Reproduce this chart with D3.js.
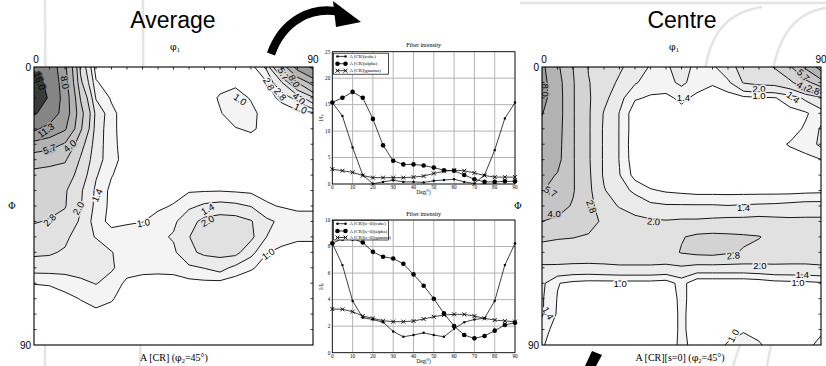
<!DOCTYPE html>
<html><head><meta charset="utf-8">
<script src="https://cdn.jsdelivr.net/npm/d3@7"></script>
<style>body{margin:0;background:#fff}svg{display:block}</style>
</head><body>
<svg id="c" width="826" height="366"></svg>
<script>
// ---------- DATA ----------
const levels = [1.0, 1.4, 2.0, 2.8, 4.0, 5.7, 8.0, 11.3, 16.0];
const levelColors = ["#f4f4f4", "#ebebeb", "#e1e1e1", "#d3d3d3", "#c5c5c5", "#b3b3b3", "#9d9d9d", "#858585", "#3a3a3a"];
// ODF sections, rows = Phi 0..90 (5 deg), cols = phi1 0..90 (5 deg)
const avgGrid = [
 [15.5,14,8.5,2.6,0.8,0.7,0.62,0.6,0.6,0.6,0.6,0.62,0.68,0.75,0.85,1.5,4.5,9.0,12],
 [17.5,15,9,3.0,1.05,0.75,0.65,0.62,0.62,0.62,0.62,0.7,0.85,0.92,0.88,0.97,2.0,4.0,6.5],
 [19,15.5,9.5,3.9,1.35,0.95,0.7,0.62,0.62,0.62,0.62,0.8,1.05,1.15,0.97,0.85,1.1,1.6,2.6],
 [16.5,14,9.5,4.5,1.8,1.1,0.8,0.68,0.62,0.62,0.62,0.8,0.97,1.2,1.1,0.85,0.8,0.85,0.9],
 [12,10,8.3,4.2,1.7,1.1,0.8,0.7,0.65,0.65,0.65,0.72,0.85,0.98,1.05,0.9,0.75,0.72,0.7],
 [7,6.5,5.5,3.2,1.65,1.12,0.8,0.72,0.7,0.7,0.7,0.72,0.75,0.8,0.85,0.8,0.75,0.72,0.7],
 [4.6,4.4,4.15,2.7,1.6,1.15,0.82,0.75,0.72,0.72,0.72,0.75,0.78,0.78,0.78,0.75,0.72,0.7,0.7],
 [3.6,3.5,3.4,2.4,1.45,1.02,0.82,0.78,0.78,0.8,0.82,0.85,0.87,0.85,0.82,0.78,0.75,0.73,0.72],
 [3.2,3.1,2.9,2.1,1.3,0.9,0.8,0.82,0.85,0.9,0.96,0.97,0.98,0.95,0.92,0.88,0.82,0.8,0.8],
 [3.0,3.0,2.85,2.05,1.25,0.9,0.85,0.9,0.95,1.02,1.3,1.48,1.55,1.5,1.38,1.05,0.97,0.95,0.95],
 [2.85,2.75,2.55,1.9,1.15,0.9,0.96,0.99,1.1,1.3,1.75,2.2,2.35,2.3,2.05,1.5,1.3,1.1,1.1],
 [2.5,2.45,2.2,1.55,1.38,1.15,1.15,1.2,1.3,1.45,1.98,2.4,2.5,2.45,2.15,1.4,1.15,1.05,1.05],
 [2.15,2.1,1.9,1.75,1.6,1.42,1.2,1.2,1.22,1.3,1.85,2.15,2.2,2.2,1.55,1.02,0.9,0.88,0.88],
 [1.6,1.6,1.55,1.6,1.6,1.45,1.2,1.12,1.1,1.12,1.3,1.42,1.6,1.25,1.05,0.85,0.78,0.75,0.75],
 [1.02,1.05,1.2,1.3,1.42,1.25,0.9,0.85,0.85,0.85,0.88,0.9,0.88,0.8,0.75,0.7,0.65,0.65,0.65],
 [0.72,0.75,0.85,1.02,1.15,1.05,0.75,0.7,0.7,0.7,0.7,0.7,0.7,0.68,0.65,0.62,0.6,0.6,0.6],
 [0.6,0.62,0.7,0.8,0.9,0.8,0.68,0.65,0.65,0.65,0.65,0.65,0.65,0.62,0.6,0.6,0.58,0.58,0.58],
 [0.55,0.56,0.6,0.65,0.7,0.68,0.62,0.6,0.6,0.6,0.6,0.6,0.6,0.58,0.56,0.55,0.55,0.55,0.55],
 [0.5,0.52,0.55,0.58,0.6,0.6,0.58,0.56,0.55,0.55,0.55,0.55,0.55,0.55,0.52,0.5,0.5,0.5,0.5]
];
const ctrGrid = [
 [8.5,6.0,4.0,2.75,2.4,2.1,1.7,1.35,1.35,1.55,1.3,1.3,1.8,2.2,2.4,2.85,3.8,6.0,9.0],
 [8.8,6.4,4.1,2.85,2.3,1.9,1.45,1.2,1.25,1.5,1.2,1.05,1.3,2.05,2.2,2.25,2.6,3.6,4.8],
 [8.8,6.5,4.1,2.9,2.2,1.55,1.05,0.95,0.9,1.1,0.9,0.8,0.82,0.9,0.95,0.98,1.15,1.5,1.9],
 [8.1,6.5,4.1,2.9,1.95,1.38,0.75,0.8,0.75,0.85,0.75,0.7,0.7,0.72,0.75,0.8,0.9,0.95,1.2],
 [7.5,6.4,4.1,2.9,1.9,1.38,0.75,0.65,0.6,0.6,0.6,0.6,0.6,0.62,0.65,0.72,0.85,1.05,1.45],
 [7.0,6.3,4.1,2.9,1.9,1.38,0.72,0.6,0.55,0.55,0.55,0.55,0.55,0.58,0.62,0.9,1.03,1.15,1.5],
 [6.6,6.2,4.1,2.9,1.9,1.38,0.75,0.6,0.55,0.55,0.55,0.55,0.55,0.58,0.6,0.7,0.85,0.9,0.99],
 [6.2,5.6,4.1,2.95,1.9,1.42,0.85,0.65,0.6,0.6,0.6,0.6,0.6,0.6,0.62,0.65,0.7,0.75,0.8],
 [5.8,5.0,4.1,3.0,2.05,1.6,1.3,1.05,0.95,0.9,0.85,0.85,0.85,0.85,0.85,0.85,0.85,0.88,0.9],
 [5.0,4.4,3.9,3.1,2.3,1.95,1.7,1.5,1.45,1.45,1.45,1.45,1.42,1.45,1.48,1.5,1.55,1.6,1.6],
 [4.0,3.8,3.5,3.0,2.7,2.4,2.2,2.1,2.05,2.1,2.1,2.15,2.2,2.2,2.25,2.2,2.15,2.15,2.15],
 [2.9,2.85,2.82,2.75,2.6,2.5,2.45,2.45,2.5,2.75,2.95,3.0,2.95,2.9,2.83,2.6,2.55,2.5,2.5],
 [2.6,2.55,2.55,2.5,2.45,2.45,2.45,2.45,2.5,2.85,3.0,3.05,2.9,2.75,2.6,2.5,2.45,2.45,2.45],
 [1.85,1.85,1.8,1.8,1.85,1.9,1.9,1.9,1.85,1.9,1.75,1.75,1.75,1.75,1.8,1.85,1.85,1.85,1.9],
 [1.5,1.02,0.9,0.85,0.85,0.85,0.85,0.85,0.8,1.15,0.7,0.7,0.7,0.7,0.75,0.85,0.88,0.9,0.95],
 [1.45,0.98,0.8,0.75,0.72,0.72,0.72,0.72,0.75,1.1,0.8,0.7,0.65,0.65,0.65,0.68,0.7,0.72,0.75],
 [1.45,0.95,0.75,0.7,0.68,0.68,0.68,0.7,0.75,1.08,0.8,0.7,0.65,0.68,0.68,0.65,0.65,0.68,0.72],
 [1.2,0.8,0.7,0.65,0.65,0.65,0.65,0.7,0.75,1.08,0.8,0.75,0.8,0.95,0.85,0.7,0.65,0.7,0.9],
 [1.05,0.75,0.65,0.6,0.6,0.6,0.62,0.68,0.75,1.1,0.85,0.8,1.05,1.2,1.05,0.8,0.7,0.85,1.15]
];
// contour labels: [text, phi1, Phi, rotation]
const avgLabels = [
 ["16.0",1.8,4.5,70],["8.0",10,5,80],["11.3",3.8,20.5,-35],["5.7",5,26.5,-20],["4.0",11.5,25.5,-40],
 ["2.8",5,49.5,-45],["2.0",14.3,45.7,-60],["1.4",20.3,41.5,-65],["1.0",35.3,50.4,-10],
 ["1.4",56,46,-30],["2.0",56,49.8,-30],["1.0",75.5,60.5,-35],["1.0",66.5,10.5,35],
 ["5.7",80.5,2.2,60],["8.0",84,4.5,60],["2.8",75.8,5.5,60],["2.8",79.5,8.8,50],["4.0",85.5,10.2,40],["1.0",86,13.4,25]
];
const ctrLabels = [
 ["8.0",1,7.5,90],["5.7",2.8,40.3,30],["4.0",3.9,47.4,0],["2.8",16,45.2,70],["2.0",36,50,5],
 ["1.4",65,45.5,0],["2.8",61.7,61,-5],["2.0",70.3,64.2,0],["1.0",25.2,70,0],["1.4",84,67.2,0],
 ["1.0",82.6,69.8,0],["1.4",45.6,9.8,0],["2.0",70,6.8,0],["1.0",70,9.3,0],["1.4",81,9.8,35],
 ["5.7",84.3,2.6,45],["4.0",84.3,6.4,30],["2.8",87.5,7.4,20],["1.4",2,79.7,60],["1.0",61.7,87,-60]
];
// fiber intensity curves
const deg = [0,5,10,15,20,25,30,35,40,45,50,55,60,65,70,75,80,85,90];
const avgCube  = [15.4,12.85,6.9,1.7,0.05,0.4,0.7,0.4,0.4,0.3,0.6,0.75,0.9,0.4,0.1,1.7,6.4,12.4,15.4];
const avgAlpha = [15.4,16.3,17.4,16.3,12.3,7.3,4.4,3.7,3.7,3.5,3.1,2.6,2.5,1.7,0.9,0.4,0.4,0.5,0.5];
const avgGamma = [2.8,2.5,2.2,1.6,1.2,1.2,1.2,1.2,1.3,1.5,2.0,2.4,2.6,2.5,2.1,1.6,1.3,1.3,1.3];
const ctrCube  = [8.24,6.6,3.9,2.64,2.5,2.3,1.6,1.2,1.33,1.5,1.33,1.2,1.8,2.3,2.5,2.6,3.9,6.6,8.24];
const ctrAlpha = [8.24,8.6,8.6,8.3,7.6,7.23,7.1,6.7,5.9,5.05,4.07,2.96,2.0,1.33,1.08,1.26,1.66,2.09,2.26];
const ctrGamma = [3.29,3.27,3.09,2.76,2.59,2.41,2.34,2.34,2.39,2.54,2.71,2.84,2.89,2.89,2.76,2.59,2.46,2.39,2.34];
const avgNames = ["A [CR](cube)","A [CR](alpha)","A [CR](gamma)"];
const ctrNames = ["A [CR][s=0](cube)","A [CR][s=0](alpha)","A [CR][s=0](gamma)"];
const avgTicksY = [0,5,10,15,20,25];
const ctrTicksY = [0,2,4,6,8,10];
const ticksX = [0,10,20,30,40,50,60,70,80,90];

// ---------- DRAWING ----------
const svg = d3.select('#c');
const defs = svg.append('defs');
const SANS = "'Liberation Sans', Arial, sans-serif";
const SERIF = "'Liberation Serif', 'DejaVu Serif', serif";
const GREEK = "'DejaVu Serif', serif";

// faint background slide strokes
const deco = svg.append('g').attr('fill','none').attr('stroke','#e4e4e4').attr('stroke-width',2.5);
deco.append('path').attr('d','M45,0 Q46,180 45,366');
deco.append('path').attr('d','M143,0 Q144,180 140,366');
deco.append('path').attr('d','M520,3 L826,3');
deco.append('path').attr('d','M705,70 C711,32 728,12 762,7');
deco.append('path').attr('d','M773,70 C780,32 798,12 826,8');
deco.append('path').attr('d','M740,345 L733,366');
deco.append('path').attr('d','M771,345 L767,366');

function valueAt(grid, p1, P) {
  const n = grid.length, s = 90/(n-1);
  const fx = Math.max(0, Math.min(n-1.001, p1/s)), fy = Math.max(0, Math.min(n-1.001, P/s));
  const i = Math.floor(fy), j = Math.floor(fx), a = fx-j, b = fy-i;
  return grid[i][j]*(1-a)*(1-b)+grid[i][j+1]*a*(1-b)+grid[i+1][j]*(1-a)*b+grid[i+1][j+1]*a*b;
}
function colorAt(v){ let c = '#ffffff'; levels.forEach((l,i)=>{ if (v>=l) c = levelColors[i]; }); return c; }

function drawODF(id, grid, box, labels, opts) {
  const g = svg.append('g');
  const xs = d3.scaleLinear().domain([0,90]).range([box.x, box.x+box.w]);
  const ys = d3.scaleLinear().domain([0,90]).range([box.y, box.y+box.h]);
  const n = grid.length, step = 90/(n-1);
  const cont = d3.contours().size([n,n]).thresholds(levels)(grid.flat());
  const proj = d3.geoTransform({point(x,y){ this.stream.point(xs((x-0.5)*step), ys((y-0.5)*step)); }});
  const path = d3.geoPath(proj);
  defs.append('clipPath').attr('id',id).append('rect')
    .attr('x',box.x).attr('y',box.y).attr('width',box.w).attr('height',box.h);
  const pg = g.append('g').attr('clip-path',`url(#${id})`);
  pg.append('rect').attr('x',box.x).attr('y',box.y).attr('width',box.w).attr('height',box.h).attr('fill','#fff');
  pg.selectAll('path.fill').data(cont).join('path').attr('class','fill')
    .attr('d',path).attr('fill',(d,i)=>levelColors[i]).attr('stroke','none');
  pg.selectAll('path.line').data(cont).join('path').attr('class','line')
    .attr('d',path).attr('fill','none').attr('stroke','#000').attr('stroke-width',0.9);
  pg.selectAll('text.lab').data(labels).join('text').attr('class','lab')
    .attr('x',d=>xs(d[1])).attr('y',d=>ys(d[2]))
    .attr('transform',d=>`rotate(${d[3]},${xs(d[1])},${ys(d[2])})`)
    .attr('text-anchor','middle').attr('dominant-baseline','central')
    .attr('font-family',SANS).attr('font-size',9.5)
    .attr('stroke',d=>colorAt(valueAt(grid,d[1],d[2]))).attr('stroke-width',3)
    .attr('paint-order','stroke').attr('fill','#000').text(d=>d[0]);
  // frame
  g.append('rect').attr('x',box.x).attr('y',box.y).attr('width',box.w).attr('height',box.h)
    .attr('fill','none').attr('stroke','#000').attr('stroke-width',1.1);
  // inward ticks every 5 degrees
  const tk = d3.range(5, 90, 5);
  const tg = g.append('g').attr('stroke','#000').attr('stroke-width',0.8);
  tk.forEach(t=>{
    tg.append('line').attr('x1',box.x).attr('x2',box.x+2.5).attr('y1',ys(t)).attr('y2',ys(t));
    tg.append('line').attr('x1',box.x+box.w).attr('x2',box.x+box.w-2.5).attr('y1',ys(t)).attr('y2',ys(t));
    tg.append('line').attr('y1',box.y).attr('y2',box.y+2.5).attr('x1',xs(t)).attr('x2',xs(t));
  });
  const tt = g.append('g').attr('font-family',SANS).attr('font-size',10).attr('fill','#000');
  tt.append('text').attr('x',box.x-3).attr('y',ys(0)+3.5).attr('text-anchor','end').text('0');
  tt.append('text').attr('x',box.x-3).attr('y',ys(90)+3.5).attr('text-anchor','end').text('90');
  tt.append('text').attr('x',xs(0)+2).attr('y',box.y-4).attr('text-anchor','middle').text('0');
  tt.append('text').attr('x',xs(90)).attr('y',box.y-4).attr('text-anchor','middle').text('90');
  // axis titles
  const at = g.append('g').attr('font-family',SERIF).attr('fill','#000');
  const p1 = at.append('text').attr('x',opts.phiX).attr('y',50).attr('text-anchor','middle').attr('font-size',9.5);
  p1.append('tspan').attr('font-family',GREEK).text('φ'); p1.append('tspan').attr('font-size',6.5).attr('dy',2).text('1');
  at.append('text').attr('x',opts.PhiX).attr('y',ys(45)+3).attr('text-anchor','middle')
    .attr('font-family',GREEK).attr('font-size',9.5).text('Φ');
  const bt = at.append('text').attr('x',opts.botX).attr('y',361).attr('text-anchor','middle').attr('font-size',10);
  bt.append('tspan').text(opts.botText + ' (');
  bt.append('tspan').attr('font-family',GREEK).attr('font-size',9.5).text('φ');
  bt.append('tspan').attr('font-size',6.5).attr('dy',1.5).text('2');
  bt.append('tspan').attr('dy',-1.5).text('=45°)');
  svg.append('text').attr('x',opts.titleX).attr('y',28).attr('text-anchor','middle')
    .attr('font-family',SANS).attr('font-size',23).attr('fill','#000').text(opts.title);
}

drawODF('clipA', avgGrid, {x:34,y:67,w:279,h:278}, avgLabels,
  {phiX:175, PhiX:12, botX:174, botText:'A [CR]', titleX:173, title:'Average'});
drawODF('clipC', ctrGrid, {x:542,y:67,w:279,h:278}, ctrLabels,
  {phiX:674, PhiX:518, botX:680, botText:'A [CR][s=0]', titleX:682, title:'Centre'});

function drawFiber(box, yTicks, data, names, layout) {
  const g = svg.append('g');
  const xs = d3.scaleLinear().domain([0,90]).range([box.x0, box.x1]);
  const ys = d3.scaleLinear().domain([yTicks[0], yTicks[yTicks.length-1]]).range([box.yb, box.yt]);
  g.append('rect').attr('x',box.x0).attr('y',box.yt).attr('width',box.x1-box.x0).attr('height',box.yb-box.yt).attr('fill','#fff');
  const gr = g.append('g').attr('stroke','#b4b4b4').attr('stroke-width',1);
  ticksX.forEach(t=>gr.append('line').attr('x1',xs(t)).attr('x2',xs(t)).attr('y1',box.yt).attr('y2',box.yb));
  yTicks.forEach(t=>gr.append('line').attr('y1',ys(t)).attr('y2',ys(t)).attr('x1',box.x0).attr('x2',box.x1));
  g.append('rect').attr('x',box.x0).attr('y',box.yt).attr('width',box.x1-box.x0).attr('height',box.yb-box.yt)
    .attr('fill','none').attr('stroke','#000').attr('stroke-width',0.8);
  const tx = g.append('g').attr('font-family',SERIF).attr('font-size',5.2).attr('fill','#000');
  ticksX.forEach(t=>tx.append('text').attr('x',xs(t)).attr('y',box.yb+5).attr('text-anchor','middle').text(t));
  yTicks.forEach(t=>tx.append('text').attr('x',box.x0-2).attr('y',ys(t)+1.8).attr('text-anchor','end').text(t));
  tx.append('text').attr('x',(box.x0+box.x1)/2).attr('y',box.yb+9.8).attr('text-anchor','middle').text('Deg(°)');
  const yl = tx.append('text').attr('transform',`translate(${box.x0-9},${(box.yt+box.yb)/2}) rotate(-90)`).attr('text-anchor','middle');
  yl.append('tspan').text('I/I'); yl.append('tspan').attr('font-size',3.5).attr('dy',1).text('0');
  g.append('text').attr('x',(box.x0+box.x1)/2).attr('y',box.yt-4.5).attr('text-anchor','middle')
    .attr('font-family',SERIF).attr('font-size',6).attr('fill','#000').text('Fiber intensity');
  const line = d3.line().x((d,i)=>xs(deg[i])).y(d=>ys(d));
  const marker = [
    (s,x,y)=>s.append('circle').attr('cx',x).attr('cy',y).attr('r',1.2).attr('fill','#000'),
    (s,x,y)=>s.append('circle').attr('cx',x).attr('cy',y).attr('r',2.3).attr('fill','#000'),
    (s,x,y)=>s.append('path').attr('d',`M${x-2},${y-2}L${x+2},${y+2}M${x-2},${y+2}L${x+2},${y-2}`).attr('stroke','#000').attr('stroke-width',0.9)
  ];
  data.forEach((ser,k)=>{
    g.append('path').attr('d',line(ser)).attr('fill','none').attr('stroke','#000').attr('stroke-width',0.75);
    ser.forEach((v,i)=>marker[k](g, xs(deg[i]), ys(v)));
  });
  // legend
  const lg = g.append('g');
  lg.append('rect').attr('x',layout.lx).attr('y',layout.ly).attr('width',layout.lw).attr('height',layout.lh)
    .attr('fill','#fff').attr('stroke','#000').attr('stroke-width',0.7);
  names.forEach((nm,k)=>{
    const yy = layout.ly + layout.rows[k];
    lg.append('line').attr('x1',layout.lx+3).attr('x2',layout.lx+13).attr('y1',yy).attr('y2',yy).attr('stroke','#000').attr('stroke-width',0.75);
    marker[k](lg, layout.lx+4, yy); marker[k](lg, layout.lx+12, yy);
    lg.append('text').attr('x',layout.lx+16).attr('y',yy+1.6).attr('font-family',SERIF).attr('font-size',4.8).attr('fill','#000').text(nm);
  });
}

drawFiber({x0:332.3, x1:515, yt:51.7, yb:184}, avgTicksY, [avgCube, avgAlpha, avgGamma], avgNames,
  {lx:333.5, ly:53.2, lw:55, lh:21, rows:[3.2, 10.5, 17.5]});
drawFiber({x0:332.3, x1:515, yt:220, yb:352.7}, ctrTicksY, [ctrCube, ctrAlpha, ctrGamma], ctrNames,
  {lx:333.5, ly:220.5, lw:55, lh:19.5, rows:[3.2, 10.5, 17]});

// black arrows (slide decoration)
const ar = svg.append('g').attr('fill','#000');
ar.append('path').attr('d','M271,54 C283,20 312,6 340,12').attr('fill','none').attr('stroke','#000').attr('stroke-width',8.5);
ar.append('path').attr('d','M333,1 L361,22 L336,27 Z');
ar.append('path').attr('d','M585,366 L592,351 L602,355 L596,366 Z');
</script>
</body></html>
